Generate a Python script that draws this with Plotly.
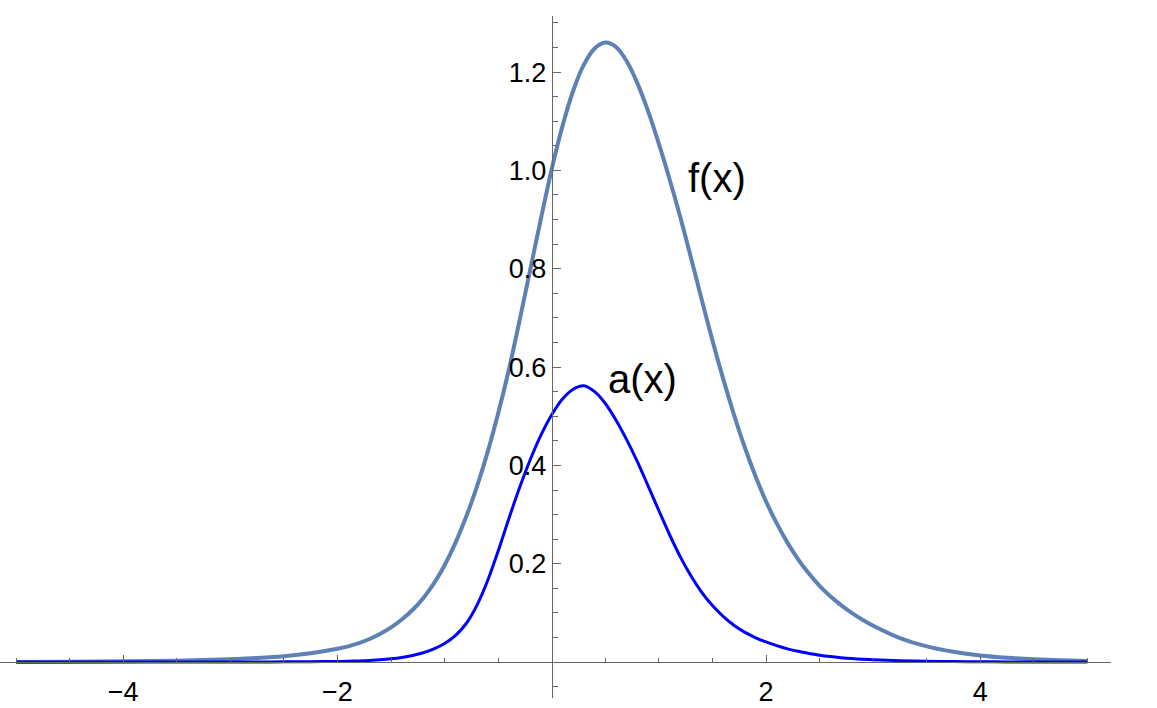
import plotly.graph_objects as go

# Sample points
x_vals = [-5.0, -4.5, -4.0, -3.5, -3.0, -2.75, -2.5, -2.25, -2.0,
          -1.9, -1.8, -1.7, -1.6, -1.5, -1.4, -1.3, -1.2, -1.1, -1.0,
          -0.9, -0.8, -0.7, -0.6, -0.5, -0.4, -0.3, -0.2, -0.1,
          0.0, 0.1, 0.2, 0.3, 0.4, 0.5, 0.6, 0.7, 0.8, 0.9, 1.0,
          1.1, 1.2, 1.3, 1.4, 1.5, 1.6, 1.7, 1.8, 1.9, 2.0,
          2.1, 2.2, 2.3, 2.4, 2.5, 2.6, 2.7, 2.8, 2.9, 3.0,
          3.25, 3.5, 3.75, 4.0, 4.25, 4.5, 4.75, 5.0]
f_vals = [0.0003, 0.0007, 0.0015, 0.003, 0.006, 0.0085, 0.012, 0.018, 0.027,
          0.032, 0.0385, 0.047, 0.0575, 0.0705, 0.0865, 0.106, 0.130, 0.160, 0.197,
          0.242, 0.295, 0.356, 0.426, 0.506, 0.595, 0.695, 0.799, 0.903,
          1.003, 1.090, 1.162, 1.215, 1.248, 1.260, 1.251, 1.222, 1.177, 1.120, 1.054,
          0.982, 0.905, 0.822, 0.737, 0.654, 0.576, 0.504, 0.438, 0.379, 0.327,
          0.282, 0.243, 0.209, 0.180, 0.155, 0.134, 0.116, 0.100, 0.086, 0.074,
          0.049, 0.032, 0.021, 0.0135, 0.0088, 0.0057, 0.0037, 0.0024]
a_vals = [0.0, 0.0, 0.00002, 0.00005, 0.00015, 0.0003, 0.0005, 0.0008, 0.0013,
          0.0018, 0.0025, 0.0035, 0.0049, 0.0068, 0.0095, 0.0135, 0.019, 0.027, 0.038,
          0.054, 0.078, 0.115, 0.165, 0.226, 0.292, 0.355, 0.412, 0.462,
          0.503, 0.535, 0.555, 0.562, 0.550, 0.526, 0.492, 0.452, 0.407, 0.358, 0.308,
          0.259, 0.214, 0.175, 0.142, 0.115, 0.093, 0.075, 0.061, 0.050, 0.041,
          0.0335, 0.027, 0.022, 0.0175, 0.014, 0.0112, 0.009, 0.0072, 0.0058, 0.0046,
          0.0028, 0.0016, 0.001, 0.0006, 0.0004, 0.0002, 0.0001, 0.0001]

x_major = [-4, -2, 2, 4]
x_major_text = ["\u22124", "\u22122", "2", "4"]
x_minor = [-5, -4.5, -3.5, -3, -2.5, -1.5, -1, -0.5, 0.5, 1, 1.5, 2.5, 3, 3.5, 4.5, 5]
y_major = [0.2, 0.4, 0.6, 0.8, 1.0, 1.2]
y_major_text = ["0.2", "0.4", "0.6", "0.8", "1.0", "1.2"]
y_minor = [-0.05, 0.05, 0.1, 0.15, 0.25, 0.3, 0.35, 0.45, 0.5, 0.55, 0.65, 0.7, 0.75,
           0.85, 0.9, 0.95, 1.05, 1.1, 1.15, 1.25, 1.3]

x_range = [-5.15, 5.22]
y_range = [-0.073, 1.314]

axis_color = "#666666"
font_family = "Liberation Sans, Arial, sans-serif"

fig = go.Figure()
fig.add_trace(go.Scatter(x=x_vals, y=f_vals, mode="lines",
                         line=dict(color="#5E81B5", width=4, shape="spline", smoothing=0.8),
                         name="f(x)", hoverinfo="skip"))
fig.add_trace(go.Scatter(x=x_vals, y=a_vals, mode="lines",
                         line=dict(color="#0000FF", width=3, shape="spline", smoothing=0.8),
                         name="a(x)", hoverinfo="skip"))

fig.add_annotation(x=1.54, y=0.985, xref="x", yref="y", text="f(x)", showarrow=False,
                   font=dict(family=font_family, size=40, color="black"))
fig.add_annotation(x=0.85, y=0.575, xref="x", yref="y", text="a(x)", showarrow=False,
                   font=dict(family=font_family, size=40, color="black"))
fig.add_annotation(x=5.434, y=-0.008, xref="x", yref="y", text="<b>x</b>", showarrow=False,
                   font=dict(family=font_family, size=28, color=axis_color))

ypos = (0 - y_range[0]) / (y_range[1] - y_range[0])
xpos = (0 - x_range[0]) / (x_range[1] - x_range[0])

fig.update_layout(
    width=1157, height=708,
    margin=dict(l=0, r=46, t=16, b=10, pad=0),
    plot_bgcolor="white", paper_bgcolor="white",
    showlegend=False,
    font=dict(family=font_family, size=26, color="black"),
    xaxis=dict(range=x_range, showgrid=False, zeroline=False, showline=True,
               linecolor=axis_color, linewidth=1, anchor="free", position=ypos,
               automargin=False,
               ticks="inside", ticklen=7, tickwidth=1, tickcolor=axis_color,
               tickmode="array", tickvals=x_major, ticktext=x_major_text,
               ticklabelstandoff=5,
               tickfont=dict(family=font_family, size=27, color="black"),
               minor=dict(tickmode="array", tickvals=x_minor, ticks="inside", ticklen=4,
                          tickwidth=1, tickcolor=axis_color, showgrid=False),
               fixedrange=True),
    yaxis=dict(range=y_range, showgrid=False, zeroline=False, showline=True,
               linecolor=axis_color, linewidth=1, anchor="free", position=xpos,
               automargin=False,
               ticks="inside", ticklen=8, tickwidth=1, tickcolor=axis_color,
               tickmode="array", tickvals=y_major, ticktext=y_major_text,
               tickfont=dict(family=font_family, size=27, color="black"),
               minor=dict(tickmode="array", tickvals=y_minor, ticks="inside", ticklen=5,
                          tickwidth=1, tickcolor=axis_color, showgrid=False),
               fixedrange=True),
)

fig.write_html("out.html", config={"displayModeBar": False},
               post_script="document.body.style.margin='0px';")
